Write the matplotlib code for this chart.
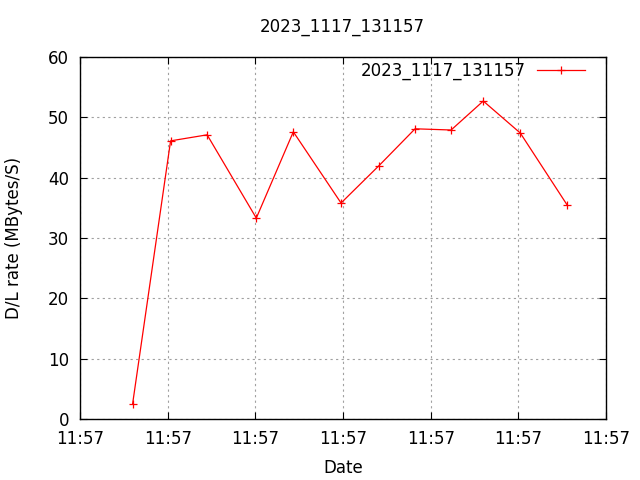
import datetime as dt
import matplotlib
matplotlib.use("Agg")
import matplotlib.pyplot as plt
import matplotlib.dates as mdates

# data section
title = "2023_1117_131157"
start = dt.datetime(2023, 11, 17, 11, 57, 0)
offsets_sec = [5.4, 9.3, 13.05, 18.1, 21.9, 26.8, 30.7, 34.4, 38.1, 41.4, 45.2, 50.0]
rates = [2.5, 46.1, 47.1, 33.3, 47.6, 35.8, 42.0, 48.1, 47.9, 52.7, 47.4, 35.5]

times = [start + dt.timedelta(seconds=s) for s in offsets_sec]
tick_times = [start + dt.timedelta(seconds=s) for s in range(0, 55, 9)]

fig = plt.figure(figsize=(6.4, 4.8), dpi=100)
ax = fig.add_axes([80 / 640, 1 - 419 / 480, 526 / 640, 362 / 480])

ax.plot(times, rates, color="red", linewidth=0.9, marker="+", markersize=6,
        markeredgewidth=0.9, label=title)

ax.set_xlim(tick_times[0], tick_times[-1])
ax.set_ylim(0, 60)
ax.set_xticks(tick_times)
ax.xaxis.set_major_formatter(mdates.DateFormatter("%H:%M"))
ax.set_yticks(range(0, 61, 10))
ax.tick_params(direction="in", top=True, right=True, labelsize=12, length=5, pad=8)
ax.grid(True, color="#a0a0a0", linestyle=(0, (2, 3)), linewidth=0.8)
for sp in ax.spines.values():
    sp.set_linewidth(1.0)

ax.set_xlabel("Date", fontsize=12, labelpad=8)
ax.set_ylabel("D/L rate (MBytes/S)", fontsize=12, labelpad=18)
fig.text(0.534, 1 - 27 / 480, title, fontsize=12, ha="center", va="center")

leg = ax.legend(loc="upper right", frameon=False, fontsize=12, markerfirst=False,
                handlelength=2.9, handletextpad=0.7, borderaxespad=0,
                bbox_to_anchor=((592 - 80) / 526, 1 + 2 / 362))

fig.savefig("out.png", dpi=100)
